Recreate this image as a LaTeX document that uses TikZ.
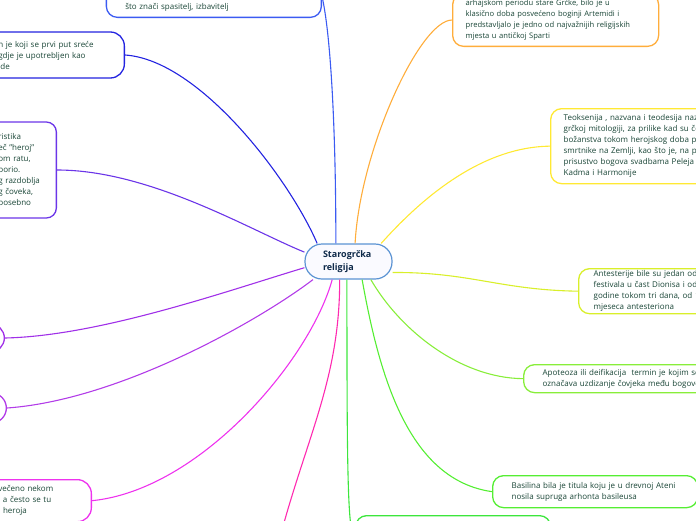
\documentclass[tikz,border=0pt]{standalone}
\usepackage{fontspec}
\setmainfont{Open Sans}
\usetikzlibrary{positioning}

\definecolor{leaftext}{HTML}{1A4637}
\definecolor{roottext}{HTML}{0F2A4A}
\definecolor{rootline}{HTML}{5B93D3}
\definecolor{cSoter}{HTML}{3B5BF2}
\definecolor{cEpitet}{HTML}{2323E0}
\definecolor{cHeroj}{HTML}{6B35E8}
\definecolor{cKult}{HTML}{A030E8}
\definecolor{cZrtva}{HTML}{B23CE8}
\definecolor{cSvetiste}{HTML}{EE33EE}
\definecolor{cPink}{HTML}{FF2AB0}
\definecolor{cOrtija}{HTML}{FFAD3B}
\definecolor{cTeoks}{HTML}{FFE933}
\definecolor{cAntest}{HTML}{D9EF2A}
\definecolor{cApot}{HTML}{88EE3A}
\definecolor{cBasil}{HTML}{55EE33}
\definecolor{cDonji}{HTML}{3CE63C}

\begin{document}
\begin{tikzpicture}[
  x=1pt, y=-1pt,
  font=\fontsize{8}{11}\selectfont,
  leaf/.style={draw, line width=1.3pt, rounded corners=11pt, fill=white, text=leaftext, align=left, inner xsep=17pt, inner ysep=6pt},
  hub/.style={draw=rootline, line width=1.2pt, fill=blue!2, rounded corners=17pt, minimum width=87pt, minimum height=35pt, text width=51pt, align=left, inner xsep=18pt, text=roottext, font=\fontsize{9}{13}\selectfont\bfseries},
  link/.style={line width=1.1pt}
]
\useasboundingbox (0,0) rectangle (696,520);
\clip (0,0) rectangle (696,520);

\node[hub] (hub) at (348.5,261.5) {Starogrčka\\religija};

% left side (text runs in from the left edge)
\node[leaf, draw=cSoter, anchor=south east, text width=177pt, inner xsep=19pt] (soter) at (322,18) {Soter (grč. Sotēr) je grčka riječ, najčešće epitet,\\što znači spasitelj, izbavitelj};
\node[leaf, draw=cEpitet, anchor=east, text width=109pt, minimum height=46pt, rounded corners=14pt] (epitet) at (125,55) {n je koji se prvi put sreće\\gdje je upotrebljen kao\\ide};
\node[leaf, draw=cHeroj, anchor=east, text width=50pt, minimum height=96pt, inner xsep=8pt, rounded corners=10pt] (heroj) at (57,170) {ristika\\eč "heroj"\\om ratu,\\borio.\\g razdoblja\\g čoveka,\\posebno};
\node[leaf, draw=cKult, anchor=east, minimum width=120pt, minimum height=28pt, rounded corners=14pt] (kult) at (5,338) {};
\node[leaf, draw=cZrtva, anchor=east, minimum width=120pt, minimum height=30pt, rounded corners=15pt] (zrtva) at (7,408) {};
\node[leaf, draw=cSvetiste, anchor=north east, text width=76pt, rounded corners=14pt] (svetiste) at (92,479) {večeno nekom\\, a često se tu\\j heroja};
\coordinate (pinkend) at (278,545);

% right side (text runs out at the right edge)
\node[leaf, draw=cOrtija, anchor=south west, text width=180pt, inner xsep=13pt, font=\fontsize{7.6}{11}\selectfont] (ortija) at (452,47) {arhajskom periodu stare Grčke, bilo je u\\klasično doba posvećeno boginji Artemidi i\\predstavljalo je jedno od najvažnijih religijskih\\mjesta u antičkoj Sparti};
\node[leaf, draw=cTeoks, anchor=north west, text width=200pt, inner xsep=13pt, minimum height=75pt] (teoks) at (550,108) {Teoksenija , nazvana i teodesija naziv je u\\grčkoj mitologiji, za prilike kad su često\\božanstva tokom herojskog doba posjećivala\\smrtnike na Zemlji, kao što je, na primjer,\\prisustvo bogova svadbama Peleja i Tetide,\\Kadma i Harmonije};
\node[leaf, draw=cAntest, anchor=north west, text width=200pt, inner xsep=15pt, minimum height=45pt, inner ysep=2pt] (antest) at (578,268) {Antesterije bile su jedan od četiri\\festivala u čast Dionisa i održavale\\godine tokom tri dana, od 11. do 13.\\mjeseca antesteriona};
\node[leaf, draw=cApot, anchor=north west, text width=200pt, inner xsep=19pt, minimum height=28pt, inner ysep=2pt] (apot) at (523,364) {Apoteoza ili deifikacija\ \ termin je kojim se\\označava uzdizanje čovjeka među bogove};
\node[leaf, draw=cBasil, anchor=north west, text width=167pt, inner xsep=19pt, minimum height=32pt, inner ysep=2pt] (basil) at (492,475) {Basilina bila je titula koju je u drevnoj Ateni\\nosila supruga arhonta basileusa};
\node[leaf, draw=cDonji, anchor=north west, minimum width=195pt, minimum height=40pt] (donji) at (355,515) {};

% branches
\draw[link, cSoter] (soter.east) .. controls (332,40) and (336,150) .. (hub.125);
\draw[link, cEpitet] (epitet.east) .. controls (200,60) and (290,180) .. (hub.150);
\draw[link, cHeroj] (heroj.east) .. controls (150,170) and (250,230) .. (hub.168);
\draw[link, cKult] (kult.east) .. controls (100,336) and (230,290) .. (hub.188);
\draw[link, cZrtva] (zrtva.east) .. controls (120,400) and (260,320) .. (hub.207);
\draw[link, cSvetiste] (svetiste.east) .. controls (200,490) and (310,360) .. (hub.228);
\draw[link, cPink] (hub.244) .. controls (340,380) and (305,440) .. (pinkend);
\draw[link, cDonji] (hub.265) .. controls (347,450) and (347,540) .. (donji.west);
\draw[link, cBasil] (hub.307) .. controls (380,380) and (410,480) .. (basil.west);
\draw[link, cApot] (hub.321) .. controls (400,330) and (460,378) .. (apot.west);
\draw[link, cAntest] (hub.346) .. controls (470,272) and (500,290) .. (antest.west);
\draw[link, cTeoks] (hub.29) .. controls (420,200) and (480,147) .. (teoks.west);
\draw[link, cOrtija] (hub.70) .. controls (360,150) and (420,20) .. (ortija.west);
\end{tikzpicture}
\end{document}
